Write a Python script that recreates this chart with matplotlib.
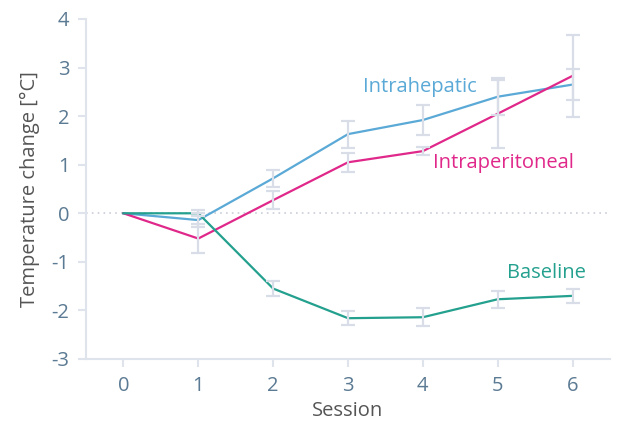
import matplotlib
matplotlib.use("Agg")
import matplotlib.pyplot as plt

plt.rcParams['font.family'] = ['Open Sans', 'DejaVu Sans']
plt.rcParams['axes.unicode_minus'] = False

sessions = [0, 1, 2, 3, 4, 5, 6]

hepatic = [0, -0.14, 0.72, 1.63, 1.92, 2.4, 2.65]
hepatic_err = [0, 0.15, 0.17, 0.28, 0.3, 0.38, 0.32]

peritoneal = [0, -0.52, 0.27, 1.05, 1.28, 2.05, 2.83]
peritoneal_err = [0, 0.3, 0.18, 0.2, 0.08, 0.7, 0.84]

baseline = [0, 0, -1.55, -2.16, -2.14, -1.77, -1.7]
baseline_err = [0, 0.06, 0.15, 0.15, 0.19, 0.17, 0.14]

c_hep = '#5aa9d6'
c_per = '#e0288a'
c_base = '#24a08e'
c_err = '#d9dde8'
c_axis = '#dfe4ec'
c_tick = '#5b7a93'

fig = plt.figure(figsize=(6.17, 4.21), dpi=100)
ax = fig.add_axes([86 / 617, 62 / 421, 524 / 617, 340 / 421])

ax.axhline(0, color='#c9cdd8', lw=1.2, ls=(0, (1, 2.5)), zorder=1)

for y, c in [(hepatic, c_hep), (peritoneal, c_per), (baseline, c_base)]:
    ax.plot(sessions, y, color=c, lw=1.6, zorder=2)

for y, e in [(hepatic, hepatic_err), (peritoneal, peritoneal_err), (baseline, baseline_err)]:
    ax.errorbar(sessions[1:], y[1:], yerr=e[1:], fmt='none', ecolor=c_err,
                elinewidth=1.6, capsize=5, capthick=1.6, zorder=3)

ax.text(3.2, 2.6, 'Intrahepatic', color=c_hep, fontsize=14.5, va='center', ha='left')
ax.text(4.14, 1.03, 'Intraperitoneal', color=c_per, fontsize=14.5, va='center', ha='left')
ax.text(5.12, -1.22, 'Baseline', color=c_base, fontsize=14.5, va='center', ha='left')

ax.set_xlim(-0.5, 6.5)
ax.set_ylim(-3, 4)
ax.set_xticks(sessions)
ax.set_yticks(range(-3, 5))

for s in ['top', 'right']:
    ax.spines[s].set_visible(False)
for s in ['left', 'bottom']:
    ax.spines[s].set_color(c_axis)
    ax.spines[s].set_linewidth(1.5)

ax.tick_params(axis='both', direction='out', length=6, width=1.5, color=c_axis,
               labelcolor=c_tick, labelsize=14.5, pad=6)

ax.set_xlabel('Session', color='#555555', fontsize=14.5, labelpad=4)
ax.set_ylabel('Temperature change [°C]', color='#555555', fontsize=14.5, labelpad=8)

fig.savefig('out.png', dpi=100)
